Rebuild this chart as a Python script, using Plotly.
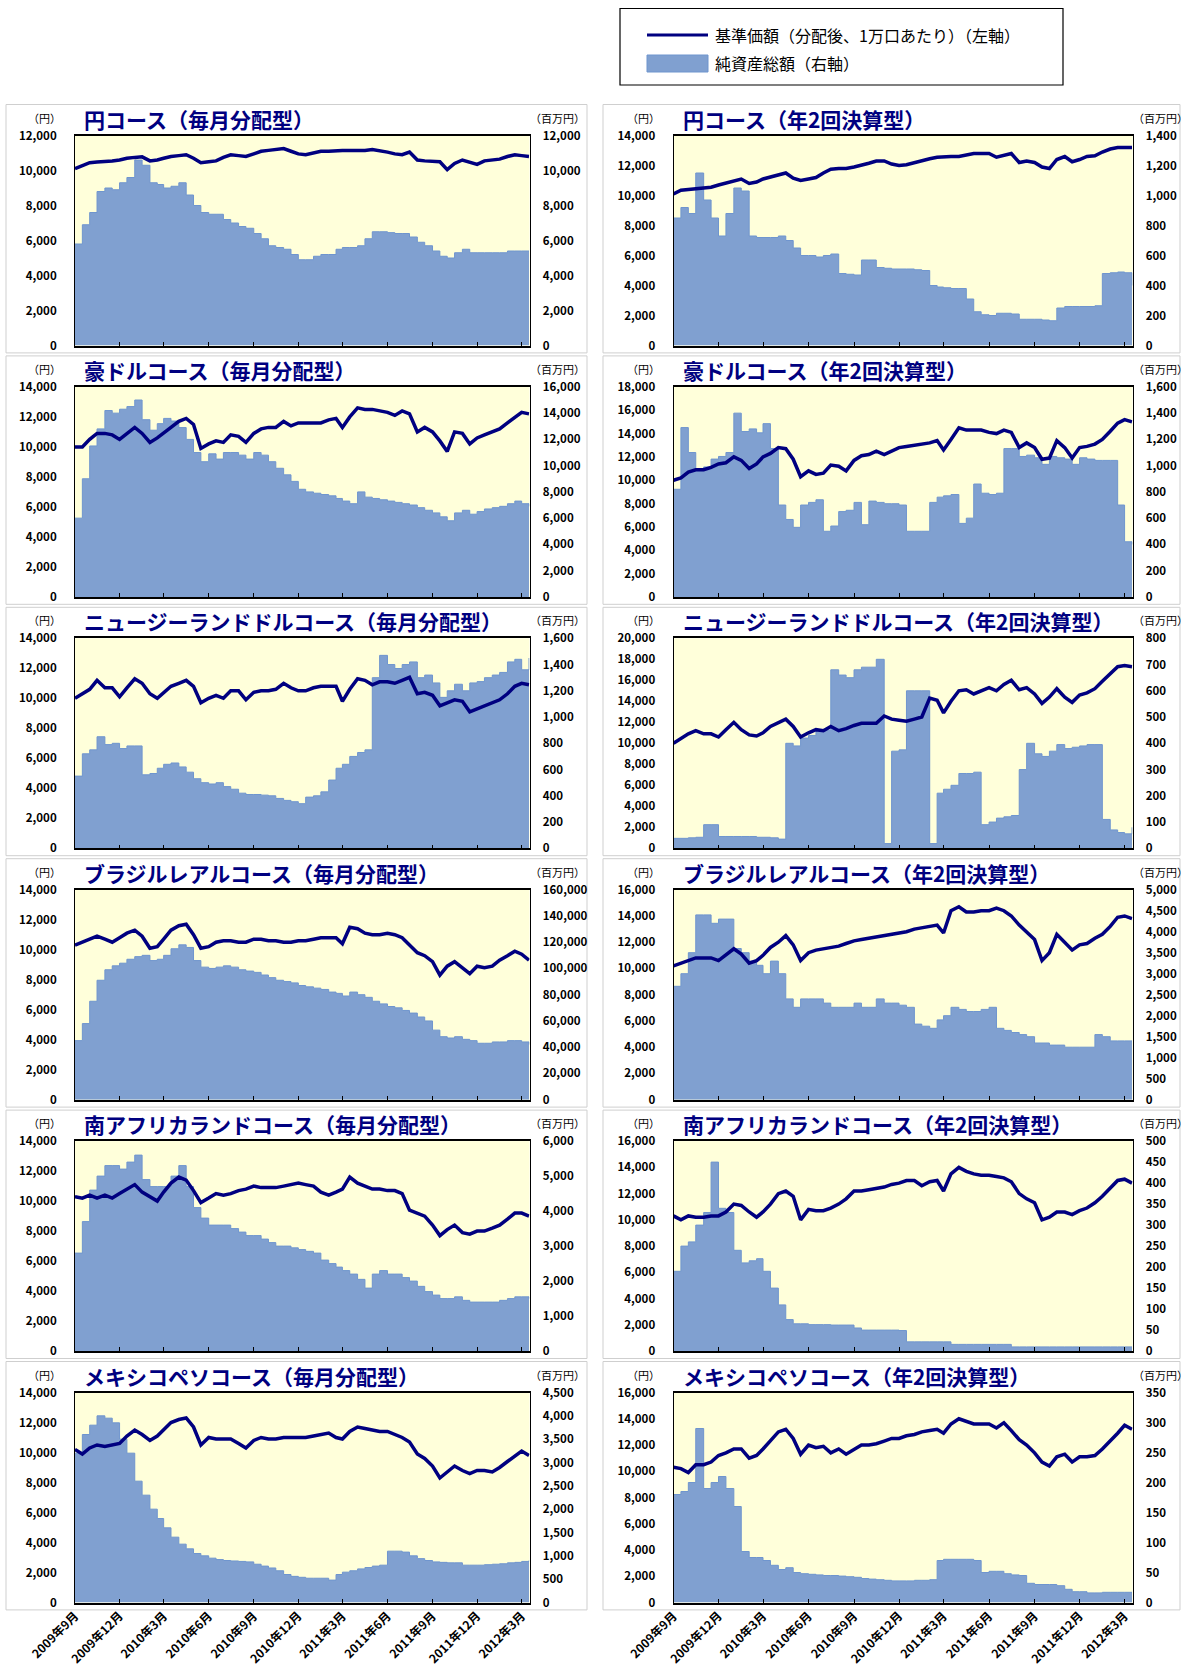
import plotly.graph_objects as go

W, H = 1189, 1670

# ---- date grid (1st and 16th of every month, Sep 2009 - Mar 2012) ----
dates = []
for yy in (2009, 2010, 2011, 2012):
    for mm in range(1, 13):
        if (yy == 2009 and mm < 9) or (yy == 2012 and mm > 3):
            continue
        dates.append(f"{yy}-{mm:02d}-01")
        dates.append(f"{yy}-{mm:02d}-16")

tick_dates = ["2009-09-01", "2009-12-01", "2010-03-01", "2010-06-01", "2010-09-01", "2010-12-01",
              "2011-03-01", "2011-06-01", "2011-09-01", "2011-12-01", "2012-03-01"]
tick_text = ["2009年9月", "2009年12月", "2010年3月", "2010年6月", "2010年9月", "2010年12月",
             "2011年3月", "2011年6月", "2011年9月", "2011年12月", "2012年3月"]

titles = ["円コース（毎月分配型）", "円コース（年2回決算型）",
          "豪ドルコース（毎月分配型）", "豪ドルコース（年2回決算型）",
          "ニュージーランドドルコース（毎月分配型）", "ニュージーランドドルコース（年2回決算型）",
          "ブラジルレアルコース（毎月分配型）", "ブラジルレアルコース（年2回決算型）",
          "南アフリカランドコース（毎月分配型）", "南アフリカランドコース（年2回決算型）",
          "メキシコペソコース（毎月分配型）", "メキシコペソコース（年2回決算型）"]

left_max = [12000, 14000, 14000, 18000, 14000, 20000, 14000, 16000, 14000, 16000, 14000, 16000]
right_max = [12000, 1400, 16000, 1600, 1600, 800, 160000, 5000, 6000, 500, 4500, 350]
right_step = [2000, 200, 2000, 200, 200, 100, 20000, 500, 1000, 50, 500, 50]

# ---- 基準価額 (left axis, yen) ----
nav_yen_m = [10100,10300,10450,10480,10500,10540,10600,10700,10750,10780,
             10550,10600,10700,10800,10850,10900,10700,10450,10500,10550,
             10750,10900,10850,10800,10950,11100,11150,11200,11250,11100,
             10950,10900,11000,11100,11100,11150,11150,11150,11150,11150,
             11200,11150,11050,10950,10900,11050,10600,10550,10550,10500,
             10050,10400,10600,10500,10350,10550,10600,10650,10800,10900,
             10850,10800]
nav_yen_s = [10100,10350,10400,10450,10500,10550,10700,10850,11000,11100,
             10800,10900,11100,11250,11350,11500,11150,11000,11100,11200,
             11500,11750,11800,11800,11900,12000,12150,12300,12300,12100,
             12000,12050,12200,12300,12450,12550,12600,12600,12600,12700,
             12800,12800,12800,12550,12700,12800,12200,12300,12200,11900,
             11800,12400,12600,12250,12400,12600,12650,12900,13100,13200,
             13200,13200]
nav_aud_m = [10000,10000,10500,10900,10900,10800,10500,10900,11300,10900,
             10300,10600,10900,11300,11700,11900,11500,9900,10200,10400,
             10300,10800,10700,10300,10900,11200,11300,11300,11700,11400,
             11600,11600,11600,11600,11800,11900,11300,12000,12600,12500,
             12500,12400,12300,12100,12400,12200,11000,11300,11000,10400,
             9700,11000,10900,10200,10600,10800,11000,11200,11600,12000,
             12300,12200]
nav_aud_s = [10000,10200,10700,10900,10900,11100,11400,11500,12000,11700,
             11000,11400,12000,12300,12800,12700,11800,10300,10800,10500,
             10600,11300,11200,10800,11700,12100,12200,12500,12200,12500,
             12800,12900,13000,13100,13200,13400,12600,13500,14500,14300,
             14300,14300,14100,14000,14300,14100,12800,13200,12800,11800,
             11900,13400,12800,11900,12800,12900,13100,13500,14200,14900,
             15200,15000]
nav_nzd_m = [10000,10300,10600,11200,10700,10700,10100,10700,11300,11000,
             10300,10000,10400,10800,11000,11200,10800,9700,10000,10200,
             10000,10500,10500,9900,10400,10500,10500,10600,11000,10700,
             10500,10500,10700,10800,10800,10800,9800,10600,11300,11200,
             10900,11100,11100,11000,11200,11400,10300,10400,10200,9500,
             9700,9900,9800,9100,9300,9500,9700,9900,10300,10800,
             11000,10900]
nav_nzd_s = [10000,10500,10900,11200,10900,10900,10600,11300,12000,11300,
             10800,10700,11000,11600,12000,12300,11600,10600,11000,11300,
             11200,11600,11200,11400,11700,11900,11900,11900,12600,12300,
             12200,12100,12300,12500,14300,14100,12900,14000,15000,15100,
             14700,15000,15300,15000,15600,16000,15100,15300,14700,13800,
             14400,15200,14400,13900,14600,14800,15200,15900,16600,17300,
             17400,17300]
nav_brl_m = [10300,10500,10700,10900,10700,10500,10800,11100,11300,10900,
             10100,10200,10700,11300,11600,11700,11000,10100,10200,10500,
             10600,10600,10500,10500,10700,10700,10600,10600,10500,10500,
             10600,10600,10700,10800,10800,10800,10400,11500,11400,11100,
             11000,11000,11100,11000,10800,10300,9800,9600,9200,8300,
             8900,9200,8800,8400,8900,8800,8900,9300,9600,9900,
             9700,9300]
nav_brl_s = [10200,10400,10600,10800,10800,10800,10600,11000,11500,11100,
             10400,10600,11000,11600,12000,12500,11800,10600,11200,11400,
             11500,11600,11700,11900,12100,12200,12300,12400,12500,12600,
             12700,12800,13000,13100,13200,13300,12700,14400,14700,14300,
             14300,14400,14400,14600,14400,14000,13300,12800,12200,10600,
             11200,12600,12000,11400,11800,11900,12300,12600,13200,13900,
             14000,13800]
nav_zar_m = [10300,10200,10400,10200,10400,10200,10500,10800,11100,10600,
             10300,10000,10600,11200,11600,11400,10700,9900,10200,10500,
             10400,10500,10700,10800,11000,10900,10900,10900,11000,11100,
             11200,11100,11000,10600,10400,10600,10800,11600,11200,11000,
             10800,10800,10700,10700,10500,9400,9200,9000,8400,7700,
             8100,8400,7900,7800,8000,8000,8200,8400,8800,9200,
             9200,9000]
nav_zar_s = [10300,10000,10300,10200,10200,10300,10300,10600,11200,11100,
             10600,10200,10600,11200,12000,12200,11800,10000,10800,10700,
             10700,10900,11200,11600,12200,12200,12300,12400,12500,12700,
             12800,13000,13000,12600,12900,13000,12200,13500,14000,13700,
             13500,13400,13400,13300,13200,12900,12000,11600,11300,10000,
             10200,10600,10600,10400,10700,10900,11300,11800,12400,13000,
             13100,12800]
nav_mxn_m = [10200,9900,10300,10500,10400,10500,10600,11100,11500,11200,
             10800,11100,11500,12000,12200,12300,11700,10500,11000,10900,
             10900,10900,10600,10300,10800,11000,10900,10900,11000,11000,
             11000,11000,11100,11200,11300,11000,10900,11400,11700,11600,
             11500,11400,11400,11200,11000,10700,9900,9600,9100,8300,
             8700,9100,8800,8600,8800,8800,8700,9000,9400,9800,
             10100,9800]
nav_mxn_s = [10300,10200,9900,10500,10500,10700,11200,11400,11700,11700,
             11000,11200,11700,12300,13000,13200,12500,11300,12000,11800,
             11900,11400,11700,11300,11700,12000,12000,12100,12300,12500,
             12500,12700,12800,13000,13100,13200,12900,13600,14000,13800,
             13600,13600,13600,13300,13700,13100,12400,12000,11400,10700,
             10400,11100,11300,10700,11100,11100,11200,11700,12300,12900,
             13500,13200]

# ---- 純資産総額 (right axis, million yen) ----
aum_yen_m = [5800,6900,7600,8800,9000,8900,9300,9600,10600,10300,
             9300,9200,9000,9100,9300,8600,8000,7600,7500,7500,
             7200,7000,6800,6700,6400,6100,5700,5600,5500,5200,
             4900,4900,5100,5200,5200,5500,5600,5600,5700,6100,
             6500,6500,6450,6400,6400,6200,5900,5700,5400,5100,
             5000,5300,5500,5300,5300,5300,5300,5300,5400,5400,
             5400,5400]
aum_yen_s = [850,920,880,1150,970,850,730,880,1050,1030,
             730,720,720,720,730,700,650,600,600,590,
             600,610,480,475,470,570,570,520,515,510,
             510,510,505,500,400,390,385,380,380,310,
             225,205,200,215,215,210,175,175,175,170,
             165,250,260,260,260,260,265,480,485,490,
             485,400]
aum_aud_m = [6000,9000,11500,12800,14200,14000,14300,14500,15000,13500,
             12700,13200,13600,13400,12900,12000,11000,10300,10900,10500,
             11000,11000,10800,10500,11000,10800,10300,9800,9300,8800,
             8200,8000,7900,7800,7700,7500,7300,7100,8000,7600,
             7500,7400,7300,7200,7100,7000,6800,6600,6400,6100,
             5800,6400,6600,6300,6500,6700,6800,6900,7100,7300,
             7100,6900]
aum_aud_s = [820,1290,1100,960,990,1050,1070,1100,1400,1260,
             1280,1250,1320,1130,700,590,530,700,720,740,
             500,540,650,660,720,550,730,720,710,710,
             700,500,500,500,720,760,770,780,560,600,
             860,790,780,790,1130,1130,1070,1080,1060,1010,
             1070,1060,1050,1010,1060,1050,1040,1040,1040,700,
             420,400]
aum_nzd_m = [550,720,750,850,790,800,760,780,780,560,
             570,610,640,650,620,580,530,500,490,500,
             470,450,420,410,410,405,400,380,365,355,
             340,390,400,430,520,610,640,700,730,750,
             1300,1470,1400,1370,1400,1420,1300,1320,1260,1150,
             1200,1250,1200,1260,1270,1300,1320,1340,1420,1440,
             1360,1450]
aum_nzd_s = [38,38,40,42,90,90,45,45,45,45,
             45,42,42,40,35,400,390,420,430,445,
             450,680,660,650,680,690,690,720,18,370,
             375,600,600,600,18,210,225,240,285,285,
             290,90,100,115,120,125,300,400,360,350,
             370,395,380,385,390,395,395,110,70,60,
             55,80]
aum_brl_m = [45000,58000,75000,91000,99000,102000,104000,107000,109000,110000,
             106000,107000,110000,115000,118000,116000,106000,101000,100000,101000,
             102000,101000,99000,98000,97000,95000,93000,91000,90000,89000,
             87000,86000,85000,84000,82000,81000,79000,82000,80000,78000,
             75000,73000,71000,70000,68000,66000,63000,60000,53000,48000,
             47000,48000,46000,45000,43000,43000,44000,44000,45000,45000,
             44000,42000]
aum_brl_s = [2700,3000,3500,4400,4400,4200,4300,4300,3600,3500,
             3300,3200,3000,3300,3000,2400,2200,2400,2400,2400,
             2300,2200,2200,2200,2300,2200,2200,2400,2300,2300,
             2250,2200,1800,1750,1700,1900,2000,2200,2150,2100,
             2100,2150,2200,1700,1650,1600,1550,1500,1350,1350,
             1300,1300,1250,1250,1250,1250,1550,1500,1400,1400,
             1400,1400]
aum_zar_m = [2800,3700,4600,5000,5300,5300,5200,5400,5600,4900,
             4700,4700,4700,5000,5300,4700,4100,3800,3600,3600,
             3600,3500,3400,3300,3300,3200,3100,3000,3000,2950,
             2900,2850,2800,2600,2500,2400,2300,2200,2050,1800,
             2200,2300,2200,2200,2100,2000,1850,1700,1600,1500,
             1500,1550,1450,1400,1400,1400,1400,1450,1500,1550,
             1550,1500]
aum_zar_s = [190,250,260,300,330,450,340,330,240,210,
             215,220,190,150,110,75,65,65,63,63,
             63,62,62,62,55,50,50,50,50,50,
             49,22,22,22,22,22,22,16,16,16,
             16,16,16,16,16,10,10,10,10,10,
             10,10,10,10,10,10,10,10,10,10,
             10,10]
aum_mxn_m = [3200,3600,3800,4000,3950,3850,3500,3200,2600,2300,
             2000,1800,1600,1400,1250,1150,1050,1000,950,920,
             900,890,880,870,820,780,740,680,600,560,
             540,520,520,520,480,600,650,680,720,750,
             780,800,1100,1100,1080,1000,940,900,870,860,
             850,850,800,800,800,810,820,830,850,860,
             880,900]
aum_mxn_s = [180,185,200,290,190,200,210,190,160,85,
             75,75,70,62,55,58,50,48,47,46,
             45,45,44,43,42,40,39,38,37,36,
             36,36,37,37,38,70,72,72,72,72,
             70,50,52,52,48,46,45,32,30,30,
             30,28,22,18,18,16,16,17,17,17,
             17,17]

navs = [nav_yen_m, nav_yen_s, nav_aud_m, nav_aud_s, nav_nzd_m, nav_nzd_s,
        nav_brl_m, nav_brl_s, nav_zar_m, nav_zar_s, nav_mxn_m, nav_mxn_s]
aums = [aum_yen_m, aum_yen_s, aum_aud_m, aum_aud_s, aum_nzd_m, aum_nzd_s,
        aum_brl_m, aum_brl_s, aum_zar_m, aum_zar_s, aum_mxn_m, aum_mxn_s]

# ---- styling ----
FONT = "Noto Sans CJK JP"
BG = "#FFFFDA"
AREA = "#80A0D0"
AREA_EDGE = "#6F95CE"
NAVY = "#000080"
BOX = "#CFCFCF"

col_x = [(75.0, 529.5), (673.5, 1132.5)]
row_top0, pitch, ph = 135.5, 251.4, 210.0

fig = go.Figure()
layout = dict(
    width=W, height=H, margin=dict(l=0, r=0, t=0, b=0, autoexpand=False),
    paper_bgcolor="white", plot_bgcolor=BG, showlegend=False,
    font=dict(family=FONT, color="black"),
)
shapes, annotations = [], []

def ax_key(prefix, n):
    return prefix if n == 1 else f"{prefix}{n}"

for k in range(12):
    r, c = divmod(k, 2)
    x0, x1 = col_x[c]
    top = row_top0 + r * pitch
    bot = top + ph
    xn = k + 1
    yb = 2 * k + 1
    yo = 2 * k + 2
    xid = "x" if xn == 1 else f"x{xn}"
    ybid = "y" if yb == 1 else f"y{yb}"
    yoid = f"y{yo}"

    layout[ax_key("xaxis", xn)] = dict(
        domain=[x0 / W, x1 / W], anchor=ybid, type="date", automargin=False,
        range=["2009-09-01", "2012-03-17"],
        tickmode="array", tickvals=tick_dates, ticktext=tick_text,
        tickangle=-45, showticklabels=(r == 5),
        tickfont=dict(size=12, family=FONT, weight="bold"),
        ticks="inside", ticklen=4, tickcolor="black", tickwidth=1,
        showline=True, linecolor="black", linewidth=1.5, mirror=True,
        showgrid=False, zeroline=False, fixedrange=True,
    )
    layout[ax_key("yaxis", yb)] = dict(
        domain=[1 - bot / H, 1 - top / H], anchor=xid, side="right", automargin=False,
        range=[0, right_max[k]], dtick=right_step[k], tick0=0, tickformat=",d",
        showline=True, linecolor="black", linewidth=1,
        showgrid=False, zeroline=False, ticks="",
        ticklabelstandoff=10,
        tickfont=dict(size=11.5, family=FONT, weight="bold"),
    )
    layout[ax_key("yaxis", yo)] = dict(
        anchor=xid, overlaying=ybid, side="left", automargin=False,
        range=[0, left_max[k]], dtick=2000, tick0=0, tickformat=",d",
        showline=True, linecolor="black", linewidth=1,
        showgrid=False, zeroline=False, ticks="",
        ticklabelstandoff=15,
        tickfont=dict(size=11.5, family=FONT, weight="bold"),
    )

    fig.add_trace(go.Scatter(
        x=dates, y=aums[k], xaxis=xid, yaxis=ybid, mode="lines",
        line=dict(color=AREA_EDGE, width=1, shape="hv"),
        fill="tozeroy", fillcolor=AREA, hoverinfo="skip", name="純資産総額（右軸）"))
    fig.add_trace(go.Scatter(
        x=dates, y=navs[k], xaxis=xid, yaxis=yoid, mode="lines",
        line=dict(color=NAVY, width=3.5), name="基準価額（分配後、1万口あたり）（左軸）"))

    # panel frame
    bx0, bx1 = (6, 587) if c == 0 else (603, 1180)
    shapes.append(dict(type="rect", xref="paper", yref="paper",
                       x0=bx0 / W, x1=bx1 / W,
                       y0=1 - (top - 31 + pitch - 3) / H, y1=1 - (top - 31) / H,
                       line=dict(color=BOX, width=1), layer="below"))
    # title
    annotations.append(dict(xref="paper", yref="paper", x=(x0 + 7) / W, y=1 - (top - 17) / H,
                            text=titles[k], showarrow=False, xanchor="left", yanchor="middle",
                            font=dict(size=21, color=NAVY, family=FONT, weight="bold")))
    # units
    annotations.append(dict(xref="paper", yref="paper", x=(x0 - 30) / W, y=1 - (top - 18) / H,
                            text="（円）", showarrow=False, xanchor="center", yanchor="middle",
                            font=dict(size=11, color="black", family=FONT)))
    annotations.append(dict(xref="paper", yref="paper", x=(x1 + 28) / W, y=1 - (top - 18) / H,
                            text="（百万円）", showarrow=False, xanchor="center", yanchor="middle",
                            font=dict(size=11, color="black", family=FONT)))

# legend (drawn)
shapes.append(dict(type="rect", xref="paper", yref="paper",
                   x0=620 / W, x1=1063 / W, y0=1 - 85 / H, y1=1 - 8.5 / H,
                   line=dict(color="black", width=1.2), fillcolor="white"))
shapes.append(dict(type="line", xref="paper", yref="paper",
                   x0=647 / W, x1=708 / W, y0=1 - 35 / H, y1=1 - 35 / H,
                   line=dict(color=NAVY, width=3)))
shapes.append(dict(type="rect", xref="paper", yref="paper",
                   x0=647 / W, x1=708 / W, y0=1 - 72 / H, y1=1 - 55 / H,
                   line=dict(color=AREA_EDGE, width=1), fillcolor=AREA))
annotations.append(dict(xref="paper", yref="paper", x=713 / W, y=1 - 35 / H,
                        text="基準価額（分配後、1万口あたり）（左軸）", showarrow=False,
                        xanchor="left", yanchor="middle",
                        font=dict(size=16, color="black", family=FONT)))
annotations.append(dict(xref="paper", yref="paper", x=713 / W, y=1 - 63.5 / H,
                        text="純資産総額（右軸）", showarrow=False,
                        xanchor="left", yanchor="middle",
                        font=dict(size=16, color="black", family=FONT)))

layout["shapes"] = shapes
layout["annotations"] = annotations
fig.update_layout(**layout)

fig.write_html("out.html", config={"displayModeBar": False},
               post_script="document.body.style.margin='0';")
